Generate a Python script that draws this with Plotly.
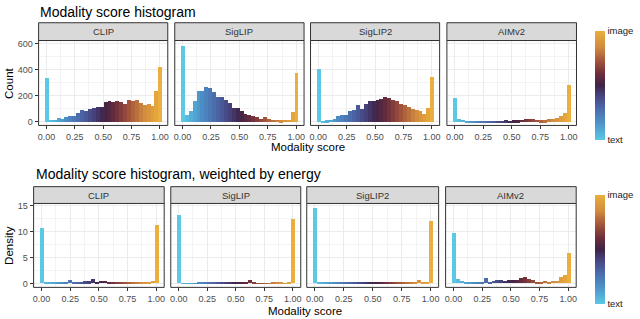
import plotly.graph_objects as go

W, H = 640, 319

models = ["CLIP", "SigLIP", "SigLIP2", "AIMv2"]
n_bins = 30
bin_centers = [i / (n_bins - 1) for i in range(n_bins)]
bin_width = 1 / (n_bins - 1)

clip_count = [335, 16, 19, 29, 21, 40, 47, 48, 68, 90, 84, 100, 105, 112, 119, 150,
              158, 153, 163, 156, 142, 172, 159, 166, 145, 132, 137, 124, 240, 424]
siglip_count = [587, 52, 87, 163, 235, 240, 272, 260, 229, 192, 189, 168, 143, 111, 110,
                86, 63, 53, 47, 35, 27, 38, 25, 18, 16, 12, 16, 18, 80, 380]
siglip2_count = [405, 10, 13, 18, 26, 46, 51, 56, 82, 95, 128, 102, 141, 161, 161, 172,
                 180, 195, 184, 172, 159, 141, 128, 115, 97, 95, 82, 58, 108, 345]
aimv2_count = [183, 26, 18, 10, 8, 8, 8, 8, 10, 8, 10, 8, 10, 13, 10, 13, 15, 18, 23,
               26, 23, 18, 13, 13, 26, 20, 33, 46, 72, 288]

clip_density = [10.6, 0.3, 0.3, 0.25, 0.12, 0.25, 0.2, 0.6, 0.2, 0.3, 0.3, 0.35, 0.35,
                0.8, 0.3, 0.4, 0.4, 0.3, 0.25, 0.25, 0.25, 0.2, 0.2, 0.2, 0.15, 0.1,
                0.15, 0.15, 0.4, 11.25]
siglip_density = [13.1, 0.05, 0.05, 0.05, 0.05, 0.15, 0.1, 0.15, 0.25, 0.3, 0.3, 0.25,
                  0.2, 0.25, 0.2, 0.2, 0.15, 0.15, 0.55, 0.1, 0.05, 0.05, 0.05, 0.05,
                  0.1, 0.15, 0.1, 0.05, 0.3, 12.4]
siglip2_density = [14.4, 0.1, 0.1, 0.1, 0.1, 0.1, 0.15, 0.1, 0.1, 0.1, 0.1, 0.1, 0.15,
                   0.1, 0.25, 0.1, 0.1, 0.2, 0.2, 0.15, 0.15, 0.15, 0.1, 0.1, 0.1, 0.1,
                   0.55, 0.1, 0.2, 11.9]
aimv2_density = [9.6, 0.8, 0.45, 0.3, 0.2, 0.2, 0.2, 0.3, 1.1, 0.2, 0.45, 0.55, 0.55,
                 0.45, 0.7, 0.7, 0.7, 1.05, 1.2, 0.8, 0.55, 0.3, 0.3, 0.45, 0.3, 0.45,
                 0.5, 1.3, 1.55, 5.75]

counts = [clip_count, siglip_count, siglip2_count, aimv2_count]
densities = [clip_density, siglip_density, siglip2_density, aimv2_density]

x_tickvals = [0, 0.25, 0.5, 0.75, 1.0]
x_ticktext = ["0.00", "0.25", "0.50", "0.75", "1.00"]
count_ticks = [0, 200, 400, 600]
density_ticks = [0, 5, 10, 15]

colorscale = [
    [0.0, "#5BC8E5"], [0.15, "#4E94CA"], [0.3, "#4A67A8"], [0.42, "#463F78"],
    [0.5, "#3F2447"], [0.6, "#6A2C3C"], [0.72, "#A0523A"], [0.85, "#D08A3E"],
    [1.0, "#EAAF3C"],
]

# pixel boxes (x0, x1, y0, y1)
top_boxes = [(37.7, 167.3), (174.3, 304.0), (310.5, 440.0), (447.3, 577.3)]
bot_boxes = [(32.7, 163.7), (170.3, 300.7), (306.7, 439.0), (446.0, 577.0)]
top_y = (38, 124)
bot_y = (203, 288)

fig = go.Figure()
layout = dict(width=W, height=H, margin=dict(l=0, r=0, t=0, b=0),
              paper_bgcolor="white", plot_bgcolor="white", showlegend=False,
              font=dict(family="Liberation Sans, Arial, sans-serif", color="#1A1A1A"),
              bargap=0)
shapes, annotations = [], []

def px(x):
    return x / W

def py(y):
    return 1 - y / H

rows = [
    (counts, top_boxes, top_y, (-30, 622), count_ticks, [100, 300, 500], "coloraxis", (20, 38)),
    (densities, bot_boxes, bot_y, (-0.7, 15.4), density_ticks, [2.5, 7.5, 12.5], "coloraxis2", (186, 203)),
]
idx = 0
for (vals_list, boxes, (y0, y1), yr, yticks, yminor, cax, (s0, s1)) in rows:
    for c, (x0, x1) in enumerate(boxes):
        idx += 1
        xa = "x" if idx == 1 else f"x{idx}"
        ya = "y" if idx == 1 else f"y{idx}"
        fig.add_trace(go.Bar(
            x=bin_centers, y=vals_list[c], width=bin_width,
            marker=dict(color=bin_centers, coloraxis=cax, line=dict(width=0)),
            xaxis=xa, yaxis=ya, hoverinfo="skip"))
        layout[f"xaxis{idx}"] = dict(
            domain=[px(x0), px(x1)], range=[-0.069, 1.069], anchor=ya,
            tickvals=x_tickvals, ticktext=x_ticktext, ticks="outside", ticklen=3,
            tickcolor="#333333", tickfont=dict(size=9, color="#4D4D4D"),
            showgrid=True, gridcolor="#EBEBEB", gridwidth=1, zeroline=False,
            showline=False,
            minor=dict(tickvals=[0.125, 0.375, 0.625, 0.875], showgrid=True,
                       gridcolor="#F3F3F3", gridwidth=0.5, ticks=""))
        layout[f"yaxis{idx}"] = dict(
            domain=[py(y1), py(y0)], range=list(yr), anchor=xa,
            tickvals=yticks, ticks="outside" if c == 0 else "", ticklen=3,
            tickcolor="#333333", showticklabels=(c == 0),
            tickfont=dict(size=9, color="#4D4D4D"),
            showgrid=True, gridcolor="#EBEBEB", gridwidth=1, zeroline=False,
            showline=False,
            minor=dict(tickvals=yminor, showgrid=True, gridcolor="#F3F3F3",
                       gridwidth=0.5, ticks=""))
        # panel border
        shapes.append(dict(type="rect", xref="paper", yref="paper",
                           x0=px(x0), x1=px(x1), y0=py(y1), y1=py(y0),
                           line=dict(color="#333333", width=1), fillcolor="rgba(0,0,0,0)",
                           layer="above"))
        # strip
        shapes.append(dict(type="rect", xref="paper", yref="paper",
                           x0=px(x0), x1=px(x1), y0=py(s1), y1=py(s0),
                           line=dict(color="#333333", width=1), fillcolor="#D9D9D9"))
        annotations.append(dict(text=models[c], xref="paper", yref="paper",
                                x=px((x0 + x1) / 2), y=py((s0 + s1) / 2),
                                showarrow=False, xanchor="center", yanchor="middle",
                                font=dict(size=9.5, color="#333333")))

cbar_common = dict(thickness=10, outlinewidth=0, tickvals=[0, 1],
                   ticktext=["text", "image"], ticks="", tickfont=dict(size=9.5, color="#1A1A1A"),
                   lenmode="pixels", len=109, x=px(596), xanchor="left", yanchor="middle",
                   xpad=0, ypad=0)
layout["coloraxis"] = dict(colorscale=colorscale, cmin=0, cmax=1,
                           colorbar=dict(cbar_common, y=py(83.5)))
layout["coloraxis2"] = dict(colorscale=colorscale, cmin=0, cmax=1,
                            colorbar=dict(cbar_common, y=py(249.5)))

# titles
annotations.append(dict(text="Modality score histogram", xref="paper", yref="paper",
                        x=px(37), y=py(9), xanchor="left", yanchor="middle",
                        showarrow=False, font=dict(size=14, color="#000000")))
annotations.append(dict(text="Modality score histogram, weighted by energy", xref="paper",
                        yref="paper", x=px(33), y=py(173), xanchor="left", yanchor="middle",
                        showarrow=False, font=dict(size=14, color="#000000")))
# axis titles
annotations.append(dict(text="Modality score", xref="paper", yref="paper",
                        x=px((37.7 + 577.3) / 2), y=py(145.5), xanchor="center",
                        yanchor="middle", showarrow=False, font=dict(size=11.5, color="#000000")))
annotations.append(dict(text="Modality score", xref="paper", yref="paper",
                        x=px((32.7 + 577) / 2), y=py(311.5), xanchor="center",
                        yanchor="middle", showarrow=False, font=dict(size=11.5, color="#000000")))
annotations.append(dict(text="Count", xref="paper", yref="paper", x=px(8), y=py(81),
                        textangle=-90, xanchor="center", yanchor="middle", showarrow=False,
                        font=dict(size=11.5, color="#000000")))
annotations.append(dict(text="Density", xref="paper", yref="paper", x=px(8), y=py(245),
                        textangle=-90, xanchor="center", yanchor="middle", showarrow=False,
                        font=dict(size=11.5, color="#000000")))

layout["shapes"] = shapes
layout["annotations"] = annotations
fig.update_layout(**layout)
fig.write_html("out.html", config={"displayModeBar": False},
               post_script="document.body.style.margin='0';document.body.style.padding='0';")
